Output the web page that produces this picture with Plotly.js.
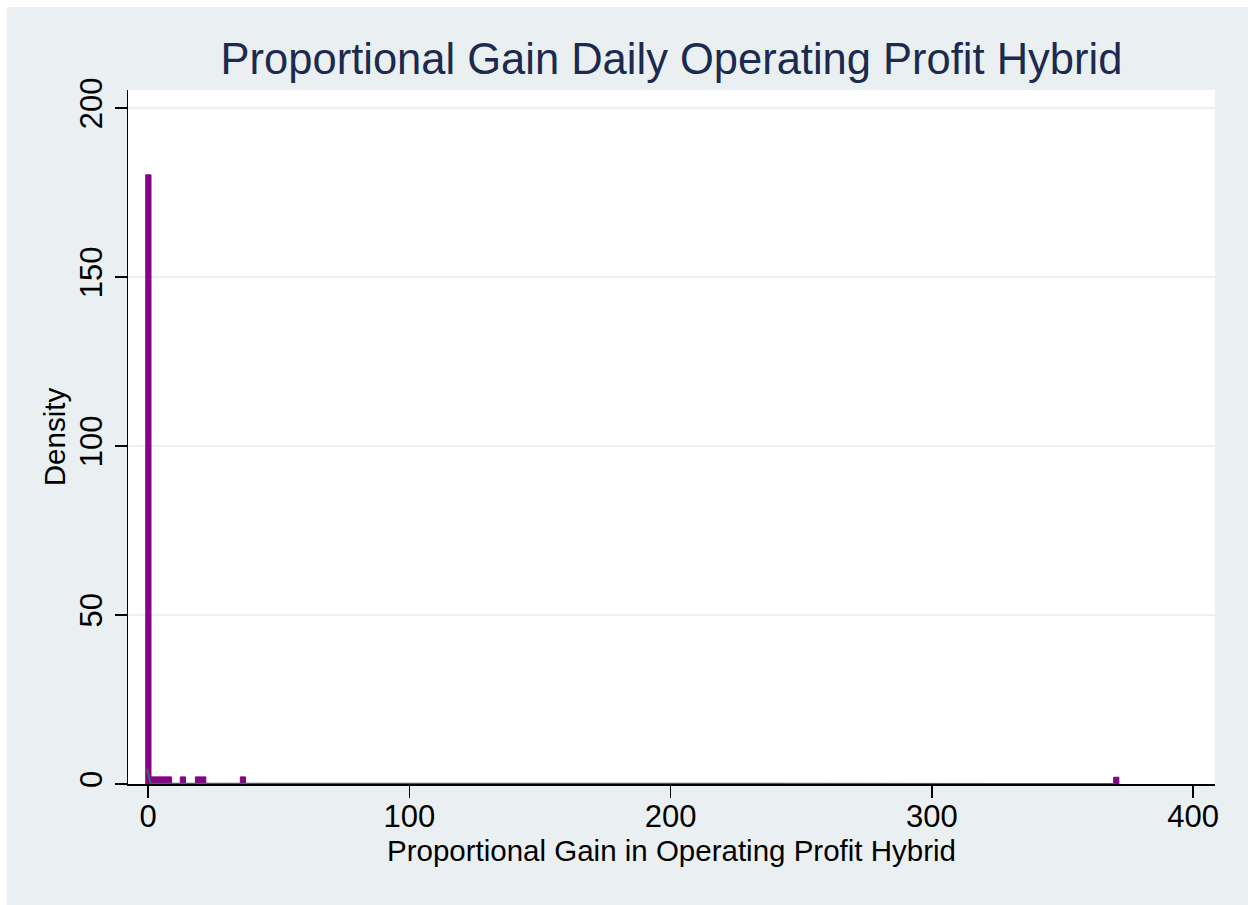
<!DOCTYPE html>
<html>
<head>
<meta charset="utf-8">
<script src="https://cdn.plot.ly/plotly-3.0.1.min.js"></script>
<style>
  html, body { margin: 0; padding: 0; background: #ffffff; width: 1248px; height: 905px; overflow: hidden; }
  #chart { position: absolute; left: 7px; top: 7px; width: 1241px; height: 898px; }
</style>
</head>
<body>
<div id="chart"></div>
<script>
// Histogram bins (centers) and densities
var binCenters = [0.1, 2, 4, 6, 8, 13.3, 19.1, 21.1, 36.3, 370.6];
var densities  = [180.2, 2.1, 2.1, 2.1, 2.1, 2.1, 2.1, 2.1, 2.1, 2.0];

// Kernel density overlay (estimated)
var kdeX = [-0.4, 0.3, 1.0, 5, 40, 150, 370];
var kdeY = [4.5, 2.0, 0.06, 0.05, 0.04, 0.03, 0.03];

var xTicks = [0, 100, 200, 300, 400];
var yTicks = [0, 50, 100, 150, 200];

var purple = '#850485';

var traces = [
  {
    type: 'bar',
    x: binCenters,
    y: densities,
    width: 2.0,
    marker: { color: purple, line: { color: purple, width: 1 } },
    hoverinfo: 'x+y'
  },
  {
    type: 'scatter',
    mode: 'lines',
    x: kdeX,
    y: kdeY,
    line: { color: '#3D6570', width: 2 },
    hoverinfo: 'x+y'
  }
];

var font = 'Liberation Sans, Arial, Helvetica, sans-serif';

var layout = {
  width: 1241,
  height: 898,
  paper_bgcolor: '#EAF0F1',
  plot_bgcolor: '#ffffff',
  showlegend: false,
  bargap: 0,
  margin: { l: 121, r: 33, t: 83, b: 121, pad: 0 },
  font: { family: font, color: '#000000' },
  title: {
    text: 'Proportional Gain Daily Operating Profit Hybrid',
    font: { family: font, size: 43.5, color: '#1B2A4E' },
    xref: 'paper', x: 0.5, xanchor: 'center',
    yref: 'container', y: 0.942, yanchor: 'middle'
  },
  xaxis: {
    range: [-7.7, 408.4],
    tickvals: xTicks,
    ticktext: xTicks.map(String),
    ticks: 'outside', ticklen: 12, tickwidth: 1.5, tickcolor: '#000000',
    ticklabelstandoff: -8,
    showline: true, linecolor: '#000000', linewidth: 1.5,
    showgrid: false, zeroline: false,
    tickfont: { family: font, size: 31, color: '#000000' },
    title: { text: 'Proportional Gain in Operating Profit Hybrid', font: { family: font, size: 29.5, color: '#000000' }, standoff: 1 },
    automargin: false
  },
  yaxis: {
    range: [0, 205.3],
    tickvals: yTicks,
    ticktext: yTicks.map(String),
    tickangle: -90,
    ticks: 'outside', ticklen: 12, tickwidth: 1.5, tickcolor: '#000000',
    showline: true, linecolor: '#000000', linewidth: 1.5,
    showgrid: true, gridcolor: '#EAF0F1', gridwidth: 2,
    zeroline: false,
    tickfont: { family: font, size: 31, color: '#000000' },
    title: { text: 'Density', font: { family: font, size: 29.5, color: '#000000' }, standoff: 0 },
    automargin: false
  }
};

Plotly.newPlot('chart', traces, layout, { displayModeBar: false, staticPlot: true });
</script>
</body>
</html>
